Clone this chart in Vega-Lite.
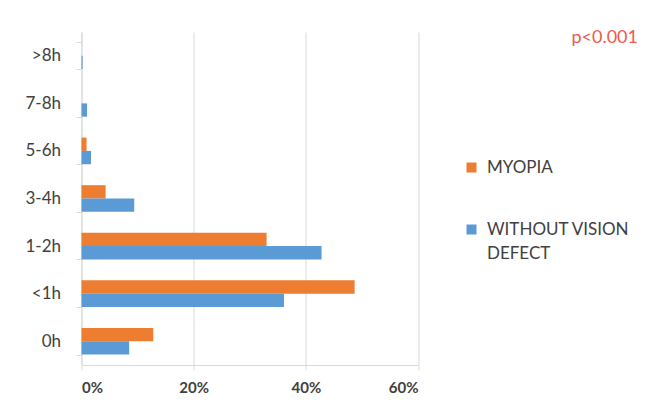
{
  "$schema": "https://vega.github.io/schema/vega-lite/v6.json",
  "autosize": {"type": "none"},
  "width": 336.5,
  "height": 333,
  "padding": {"left": 81.5, "top": 32, "right": 234, "bottom": 38},
  "background": "white",
  "title": {
    "text": "p<0.001",
    "anchor": "end",
    "frame": "group",
    "orient": "top",
    "offset": 0,
    "dx": 220,
    "dy": 38,
    "baseline": "alphabetic",
    "font": "Lato",
    "fontSize": 18,
    "fontWeight": "normal",
    "color": "#f05a46"
  },
  "data": {
    "values": [
      {"category": "0h", "group": "MYOPIA", "value": 0.128},
      {"category": "0h", "group": "WITHOUT VISION DEFECT", "value": 0.085},
      {"category": "<1h", "group": "MYOPIA", "value": 0.487},
      {"category": "<1h", "group": "WITHOUT VISION DEFECT", "value": 0.361},
      {"category": "1-2h", "group": "MYOPIA", "value": 0.330},
      {"category": "1-2h", "group": "WITHOUT VISION DEFECT", "value": 0.428},
      {"category": "3-4h", "group": "MYOPIA", "value": 0.043},
      {"category": "3-4h", "group": "WITHOUT VISION DEFECT", "value": 0.094},
      {"category": "5-6h", "group": "MYOPIA", "value": 0.009},
      {"category": "5-6h", "group": "WITHOUT VISION DEFECT", "value": 0.017},
      {"category": "7-8h", "group": "MYOPIA", "value": 0.0},
      {"category": "7-8h", "group": "WITHOUT VISION DEFECT", "value": 0.010},
      {"category": ">8h", "group": "MYOPIA", "value": 0.0},
      {"category": ">8h", "group": "WITHOUT VISION DEFECT", "value": 0.002}
    ]
  },
  "mark": {"type": "bar"},
  "encoding": {
    "y": {
      "field": "category",
      "type": "nominal",
      "sort": [">8h", "7-8h", "5-6h", "3-4h", "1-2h", "<1h", "0h"],
      "scale": {"paddingInner": 0.44, "paddingOuter": 0.22},
      "axis": {
        "title": null,
        "tickBand": "extent",
        "tickSize": 5,
        "tickColor": "#d9d9d9",
        "domainColor": "#d9d9d9",
        "labelPadding": 16,
        "labelFont": "Lato",
        "labelFontSize": 17,
        "labelColor": "#404040"
      }
    },
    "yOffset": {
      "field": "group",
      "type": "nominal",
      "sort": ["MYOPIA", "WITHOUT VISION DEFECT"],
      "scale": {"paddingInner": 0, "paddingOuter": 0}
    },
    "x": {
      "field": "value",
      "type": "quantitative",
      "scale": {"domain": [0, 0.6], "nice": false},
      "axis": {
        "title": null,
        "values": [0, 0.2, 0.4, 0.6],
        "format": ".0%",
        "grid": true,
        "gridColor": "#d9d9d9",
        "domainColor": "#d9d9d9",
        "tickColor": "#d9d9d9",
        "tickSize": 5,
        "labelPadding": 10,
        "labelFont": "Lato",
        "labelFontSize": 15,
        "labelFontWeight": "bold",
        "labelColor": "#404040"
      }
    },
    "color": {
      "field": "group",
      "type": "nominal",
      "sort": ["MYOPIA", "WITHOUT VISION DEFECT"],
      "scale": {"domain": ["MYOPIA", "WITHOUT VISION DEFECT"], "range": ["#ed7d31", "#5b9bd5"]},
      "legend": {
        "title": null,
        "orient": "none",
        "legendX": 381.5,
        "legendY": 127,
        "padding": 0,
        "symbolType": "square",
        "symbolSize": 100,
        "symbolStrokeWidth": 0,
        "labelFont": "Lato",
        "labelFontSize": 17,
        "labelColor": "#404040",
        "labelOffset": 7,
        "rowPadding": 44,
        "labelLimit": 300,
        "labelExpr": "datum.label == 'WITHOUT VISION DEFECT' ? ['WITHOUT VISION', 'DEFECT'] : datum.label",
        "encode": {
          "labels": {
            "update": {
              "lineHeight": {"value": 24}
            }
          }
        }
      }
    }
  },
  "config": {
    "view": {"stroke": null},
    "axis": {"domainWidth": 1, "gridWidth": 1}
  }
}
